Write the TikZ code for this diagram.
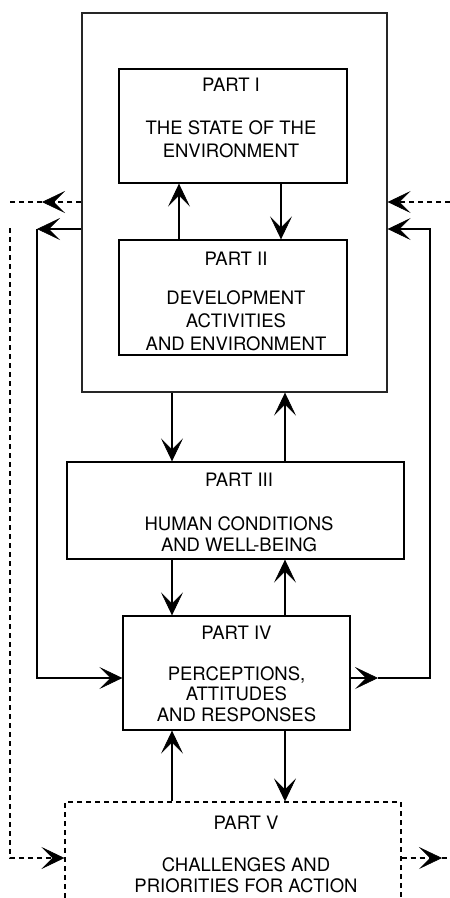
\documentclass[tikz,border=0pt]{standalone}
\usepackage{fontspec}
\setmainfont{TeX Gyre Heros}
\usetikzlibrary{arrows.meta}
\begin{document}
\begin{tikzpicture}[x=1pt,y=-1pt,
  box/.style={draw, line width=1.3pt, inner sep=0pt},
  ttl/.style={anchor=base, inner sep=0pt, font=\fontsize{18.5}{21.5}\selectfont},
  bdy/.style={anchor=north, inner sep=0pt, align=center, font=\fontsize{18.5}{21.5}\selectfont},
  tip/.style={-{Stealth[length=23pt,width=22pt,inset=11pt,line width=0.6pt]}},
  vert/.style={tip, line width=2.6pt},
  loopline/.style={line width=1.3pt},
  dsh/.style={line width=1.1pt, dash pattern=on 5pt off 4pt}]
\useasboundingbox (0,0) rectangle (450,898);
\clip (0,0) rectangle (450,898);
\fill[white] (0,0) rectangle (450,898);

% boxes
\node[box, draw=black!85, minimum width=305pt, minimum height=379pt] (outer) at (234.5,202.5) {};
\node[box, minimum width=228pt, minimum height=114pt] (p1) at (233,126) {};
\node[box, minimum width=228pt, minimum height=115pt] (p2) at (233,297.5) {};
\node[box, minimum width=337pt, minimum height=97pt] (p3) at (235.5,510.5) {};
\node[box, minimum width=227pt, minimum height=114pt] (p4) at (236.5,673) {};
\node[box, dsh, minimum width=336pt, minimum height=128pt] (p5) at (233,866) {};

% texts
\node[ttl] (p1t) at (231,91) {PART I};
\node[bdy, font=\fontsize{18.5}{23}\selectfont] (p1b) at (231,120.4) {THE STATE OF THE\\ENVIRONMENT};
\node[ttl] (p2t) at (236,265) {PART II};
\node[bdy, font=\fontsize{18.5}{23}\selectfont] (p2b) at (236,290) {DEVELOPMENT\\ACTIVITIES\\AND ENVIRONMENT};
\node[ttl] (p3t) at (239,486) {PART III};
\node[bdy, font=\fontsize{18.5}{21.7}\selectfont] (p3b) at (239,516) {HUMAN CONDITIONS\\AND WELL-BEING};
\node[ttl] (p4t) at (236.5,639) {PART IV};
\node[bdy, font=\fontsize{18.5}{20.8}\selectfont] (p4b) at (236.5,666) {PERCEPTIONS,\\ATTITUDES\\AND RESPONSES};
\node[ttl] (p5t) at (246,829) {PART V};
\node[bdy, font=\fontsize{18.5}{21}\selectfont] (p5b) at (246,857) {CHALLENGES AND\\PRIORITIES FOR ACTION};

% x positions of vertical arrows
\coordinate (xa) at (179,0);
\coordinate (xb) at (281,0);
\coordinate (xc) at (172,0);
\coordinate (xd) at (285,0);

\draw[vert] (p2.north -| xa) -- (p1.south -| xa);
\draw[vert] (p1.south -| xb) -- (p2.north -| xb);
\draw[vert] (outer.south -| xc) -- (p3.north -| xc);
\draw[vert] (p3.north -| xd) -- (outer.south -| xd);
\draw[vert] (p3.south -| xc) -- (p4.north -| xc);
\draw[vert] (p4.north -| xd) -- (p3.south -| xd);
\draw[vert] (p5.north -| xc) -- (p4.south -| xc);
\draw[vert] (p4.south -| xd) -- (p5.north -| xd);

% solid feedback loops
\coordinate (ltc) at (37,229);
\coordinate (lbc) at (37,678);
\coordinate (rtc) at (430,229);
\coordinate (rbc) at (430,678);
\coordinate (rmid) at (378,678);
\draw[loopline, tip] (outer.west |- ltc) -- (ltc);
\draw[loopline, tip] (ltc) -- (lbc) -- (p4.west |- lbc);
\draw[loopline, tip] (p4.east |- rbc) -- (rmid);
\draw[loopline, tip] (rmid) -- (rbc) -- (rtc) -- (outer.east |- rtc);

% dashed links
\coordinate (dl) at (10,202);
\coordinate (dlm) at (42,202);
\coordinate (dr) at (450,202);
\coordinate (vt) at (10,228);
\coordinate (vb) at (10,858);
\coordinate (brm) at (442,858);
\coordinate (bre) at (450,858);
\draw[dsh, tip] (outer.west |- dl) -- (dlm);
\draw[dsh] (dlm) -- (dl);
\draw[dsh, tip] (dr) -- (outer.east |- dr);
\draw[dsh, tip] (vt) -- (vb) -- (p5.west |- vb);
\draw[dsh, tip] (p5.east |- vb) -- (brm);
\draw[dsh] (brm) -- (bre);
\end{tikzpicture}
\end{document}
